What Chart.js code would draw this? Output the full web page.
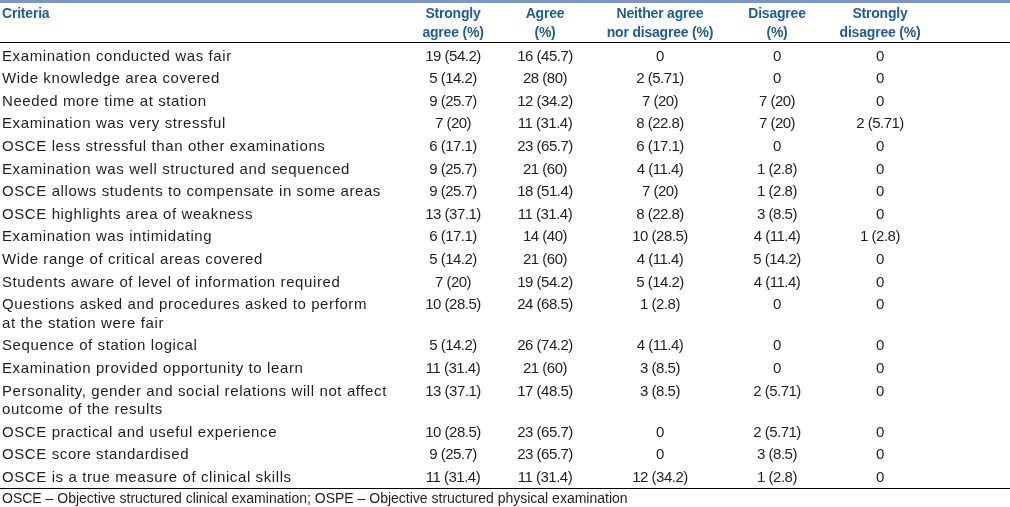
<!DOCTYPE html>
<html>
<head>
<meta charset="utf-8">
<script src="https://cdn.jsdelivr.net/npm/chart.js@4.4.1/dist/chart.umd.min.js"></script>
<style>
  html, body { margin: 0; padding: 0; background: #ffffff; }
  #wrap { width: 1010px; height: 507px; position: relative; }
</style>
</head>
<body>
<div id="wrap"><canvas id="c" width="1010" height="507"></canvas></div>
<script>
// ---------------- data ----------------
const headers = [
  ['Criteria'],
  ['Strongly', 'agree (%)'],
  ['Agree', '(%)'],
  ['Neither agree', 'nor disagree (%)'],
  ['Disagree', '(%)'],
  ['Strongly', 'disagree (%)']
];
const criteria = [
  ['Examination conducted was fair'],
  ['Wide knowledge area covered'],
  ['Needed more time at station'],
  ['Examination was very stressful'],
  ['OSCE less stressful than other examinations'],
  ['Examination was well structured and sequenced'],
  ['OSCE allows students to compensate in some areas'],
  ['OSCE highlights area of weakness'],
  ['Examination was intimidating'],
  ['Wide range of critical areas covered'],
  ['Students aware of level of information required'],
  ['Questions asked and procedures asked to perform', 'at the station were fair'],
  ['Sequence of station logical'],
  ['Examination provided opportunity to learn'],
  ['Personality, gender and social relations will not affect', 'outcome of the results'],
  ['OSCE practical and useful experience'],
  ['OSCE score standardised'],
  ['OSCE is a true measure of clinical skills']
];
const stronglyAgreeN   = [19, 5, 9, 7, 6, 9, 9, 13, 6, 5, 7, 10, 5, 11, 13, 10, 9, 11];
const stronglyAgreePct = [54.2, 14.2, 25.7, 20, 17.1, 25.7, 25.7, 37.1, 17.1, 14.2, 20, 28.5, 14.2, 31.4, 37.1, 28.5, 25.7, 31.4];
const agreeN   = [16, 28, 12, 11, 23, 21, 18, 11, 14, 21, 19, 24, 26, 21, 17, 23, 23, 11];
const agreePct = [45.7, 80, 34.2, 31.4, 65.7, 60, 51.4, 31.4, 40, 60, 54.2, 68.5, 74.2, 60, 48.5, 65.7, 65.7, 31.4];
const neitherN   = [0, 2, 7, 8, 6, 4, 7, 8, 10, 4, 5, 1, 4, 3, 3, 0, 0, 12];
const neitherPct = [0, 5.71, 20, 22.8, 17.1, 11.4, 20, 22.8, 28.5, 11.4, 14.2, 2.8, 11.4, 8.5, 8.5, 0, 0, 34.2];
const disagreeN   = [0, 0, 7, 7, 0, 1, 1, 3, 4, 5, 4, 0, 0, 0, 2, 2, 3, 1];
const disagreePct = [0, 0, 20, 20, 0, 2.8, 2.8, 8.5, 11.4, 14.2, 11.4, 0, 0, 0, 5.71, 5.71, 8.5, 2.8];
const stronglyDisagreeN   = [0, 0, 0, 2, 0, 0, 0, 0, 1, 0, 0, 0, 0, 0, 0, 0, 0, 0];
const stronglyDisagreePct = [0, 0, 0, 5.71, 0, 0, 0, 0, 2.8, 0, 0, 0, 0, 0, 0, 0, 0, 0];
const footnote = 'OSCE \u2013 Objective structured clinical examination; OSPE \u2013 Objective structured physical examination';

// ---------------- layout / style ----------------
const W = 1010, H = 507;
const COL_X = [2, 453, 545, 660, 777, 880];      // column anchor (criteria left edge, others centres)
const EXTRA_LINE = 0.83;                          // extra row units per additional text line
const FAMILY = '"Liberation Sans", Arial, sans-serif';
const BODY_FONT = '15px ' + FAMILY;
const HEAD_FONT = 'bold 14px ' + FAMILY;
const FOOT_FONT = '14px ' + FAMILY;
const CRIT_SPACING = '0.6px';
const NUM_SPACING = '-0.5px';
const HEAD_SPACING = '-0.2px';
const TEXT_COLOR = '#1e1e1e';
const HEAD_COLOR = '#1f5b98';
const TOP_RULE = '#7a97c6';
const CAP = 0.716;

// row start units derived from the number of text lines per criterion
const rowStart = [];
let acc = 0;
criteria.forEach(lines => { rowStart.push(acc); acc += 1 + EXTRA_LINE * (lines.length - 1); });
const totalUnits = acc;

function fmt(n, p) { return n === 0 ? '0' : n + ' (' + p + ')'; }
const columns = [
  { n: stronglyAgreeN, p: stronglyAgreePct },
  { n: agreeN, p: agreePct },
  { n: neitherN, p: neitherPct },
  { n: disagreeN, p: disagreePct },
  { n: stronglyDisagreeN, p: stronglyDisagreePct }
];

const datasets = [];
datasets.push({
  label: 'Criteria',
  data: criteria.map((c, i) => ({ x: COL_X[0], y: rowStart[i] + 0.5 })),
  texts: criteria,
  align: 'left',
  spacing: CRIT_SPACING,
  pointRadius: 0
});
columns.forEach((col, ci) => {
  datasets.push({
    label: headers[ci + 1].join(' '),
    data: col.n.map((n, i) => ({ x: COL_X[ci + 1], y: rowStart[i] + 0.5 })),
    texts: col.n.map((n, i) => [fmt(n, col.p[i])]),
    align: 'center',
    spacing: NUM_SPACING,
    pointRadius: 0
  });
});

const tablePlugin = {
  id: 'tablePlugin',
  afterDraw(chart) {
    const ctx = chart.ctx;
    const area = chart.chartArea;
    const yScale = chart.scales.y;
    const unitPx = Math.abs(yScale.getPixelForValue(1) - yScale.getPixelForValue(0));
    const linePx = unitPx * EXTRA_LINE;
    ctx.save();
    // top rule
    ctx.fillStyle = TOP_RULE;
    ctx.fillRect(0, 0, W, 3);
    // header
    ctx.font = HEAD_FONT;
    ctx.fillStyle = HEAD_COLOR;
    ctx.textBaseline = 'alphabetic';
    ctx.letterSpacing = HEAD_SPACING;
    const headBase = 18;
    headers.forEach((h, i) => {
      ctx.textAlign = i === 0 ? 'left' : 'center';
      const x = chart.scales.x.getPixelForValue(COL_X[i]);
      h.forEach((line, li) => ctx.fillText(line, x, headBase + li * linePx * 1.03));
    });
    // header rule & bottom rule
    ctx.fillStyle = '#000000';
    ctx.fillRect(0, Math.round(area.top) - 2, W, 1);
    ctx.fillRect(0, Math.round(area.bottom), W, 1);
    // body cells
    ctx.font = BODY_FONT;
    ctx.fillStyle = TEXT_COLOR;
    const capHalf = 15 * CAP / 2;
    chart.data.datasets.forEach((ds, di) => {
      const meta = chart.getDatasetMeta(di);
      ctx.textAlign = ds.align;
      ctx.letterSpacing = ds.spacing;
      meta.data.forEach((pt, i) => {
        ds.texts[i].forEach((line, li) => {
          ctx.fillText(line, pt.x, pt.y + capHalf + li * linePx);
        });
      });
    });
    // footnote
    ctx.letterSpacing = '0px';
    ctx.font = FOOT_FONT;
    ctx.textAlign = 'left';
    ctx.fillText(footnote, 2, area.bottom + 15);
    ctx.restore();
  }
};

new Chart(document.getElementById('c'), {
  type: 'scatter',
  data: { datasets },
  options: {
    responsive: false,
    animation: false,
    devicePixelRatio: 1,
    layout: { padding: { top: 44, bottom: 19, left: 0, right: 0 } },
    plugins: { legend: { display: false }, tooltip: { enabled: false } },
    scales: {
      x: { type: 'linear', min: 0, max: W, display: false },
      y: { type: 'linear', min: 0, max: totalUnits, reverse: true, display: false }
    }
  },
  plugins: [tablePlugin]
});
</script>
</body>
</html>
